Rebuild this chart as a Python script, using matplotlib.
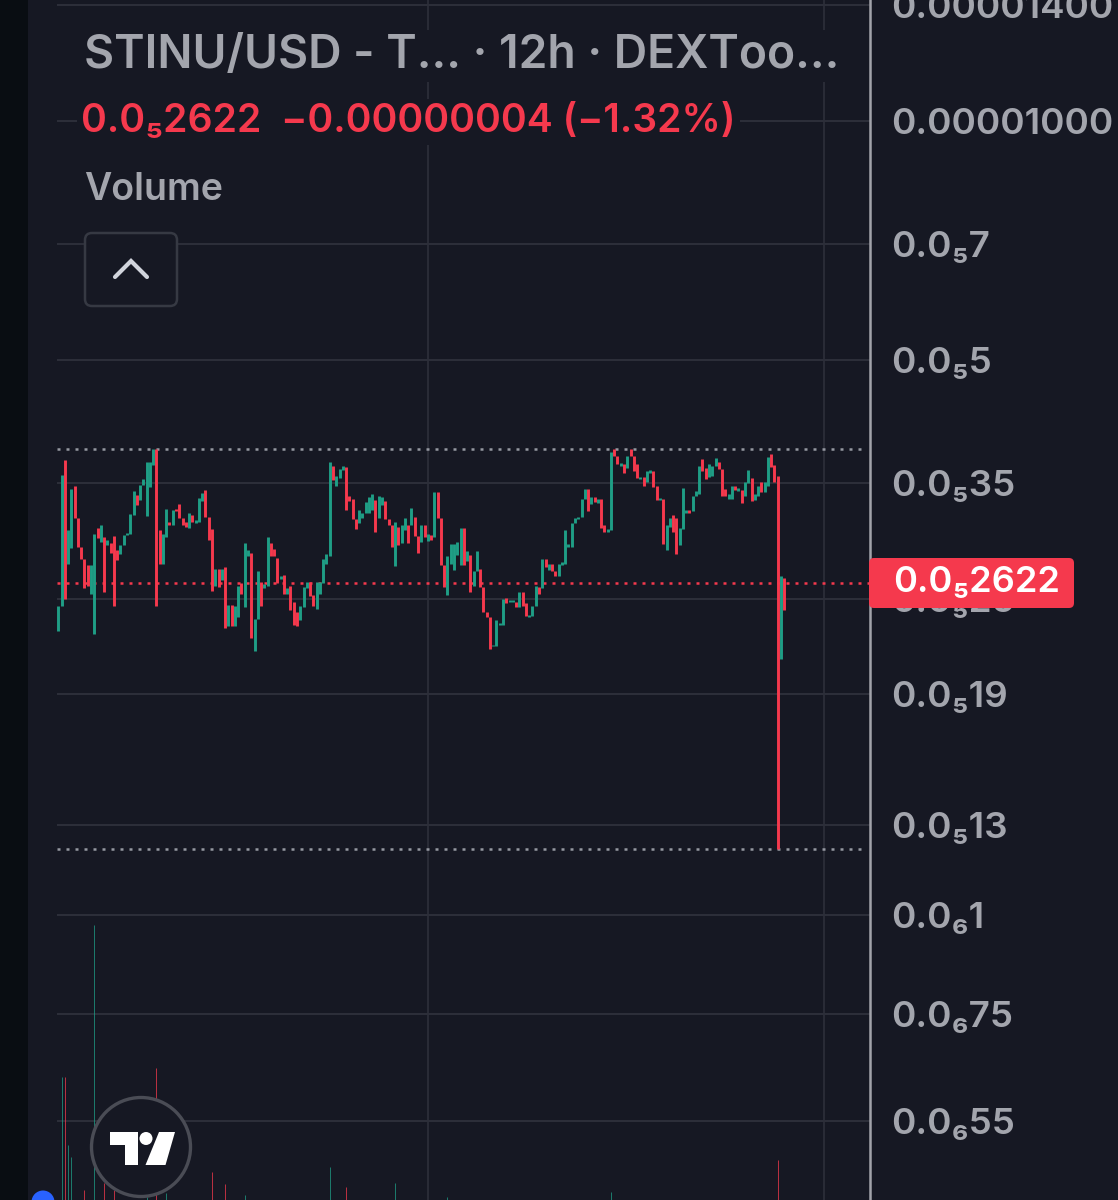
import matplotlib
matplotlib.use("Agg")
import matplotlib.pyplot as plt
from matplotlib.lines import Line2D
from matplotlib.patches import Rectangle, FancyBboxPatch, Polygon, Circle
from matplotlib.transforms import Affine2D

plt.rcParams['font.family'] = ['Inter', 'DejaVu Sans']

# values in millionths of a dollar
candle_high = [
 2.45,3.58,3.74,3.05,3.44,3.47,3.16,2.91,2.81,2.76,
 2.76,3.02,3.07,3.10,2.99,2.97,2.94,3.00,2.88,2.92,
 3.01,3.03,3.20,3.42,3.38,3.48,3.54,3.72,3.72,3.86,
 3.86,3.05,3.02,3.25,3.13,3.24,3.25,3.29,3.16,3.13,
 3.21,3.19,3.14,3.35,3.40,3.43,3.17,3.06,2.73,2.73,
 2.73,2.74,2.46,2.46,2.45,2.60,2.62,2.94,2.88,2.86,
 2.36,2.71,2.63,2.61,2.99,2.94,2.89,2.82,2.67,2.68,
 2.58,2.60,2.48,2.41,2.45,2.59,2.63,2.63,2.53,2.63,
 2.63,2.81,2.85,3.72,3.68,3.57,3.65,3.68,3.67,3.37,
 3.34,3.15,3.24,3.21,3.31,3.36,3.39,3.33,3.37,3.36,
 3.32,3.15,3.10,3.13,3.08,3.10,3.16,3.10,3.26,3.17,
 3.00,3.10,3.10,3.02,3.01,3.41,3.41,3.16,2.76,2.83,
 2.93,2.93,2.95,3.07,3.07,2.87,2.84,2.71,2.87,2.73,
 2.59,2.41,2.37,2.19,2.35,2.33,2.50,2.51,2.49,2.49,
 2.48,2.55,2.55,2.47,2.39,2.45,2.60,2.59,2.81,2.81,
 2.77,2.77,2.71,2.77,2.78,3.05,2.93,3.12,3.16,3.17,
 3.34,3.44,3.44,3.36,3.36,3.34,3.34,3.10,3.06,3.83,
 3.86,3.78,3.71,3.70,3.79,3.86,3.78,3.70,3.56,3.56,
 3.62,3.63,3.62,3.47,3.35,3.34,3.10,3.16,3.19,3.16,
 3.07,3.45,3.24,3.24,3.37,3.42,3.68,3.75,3.66,3.70,
 3.68,3.76,3.72,3.64,3.44,3.39,3.47,3.47,3.45,3.43,
 3.51,3.63,3.55,3.39,3.47,3.51,3.51,3.77,3.81,3.69,
 3.57,2.67,2.66]
candle_low = [
 2.28,2.45,2.50,2.77,2.90,3.16,2.91,2.81,2.58,2.60,
 2.54,2.26,2.98,2.95,2.55,2.92,2.86,2.45,2.80,2.85,
 2.92,3.01,3.02,3.19,3.28,3.33,3.48,3.18,3.46,3.69,
 2.45,2.77,2.77,2.99,3.10,3.10,3.23,3.16,3.10,3.08,
 3.07,3.13,3.12,3.13,3.32,3.17,2.97,2.56,2.60,2.59,
 2.64,2.30,2.31,2.31,2.31,2.37,2.54,2.44,2.83,2.23,
 2.15,2.36,2.45,2.58,2.60,2.83,2.83,2.62,2.65,2.54,
 2.54,2.42,2.32,2.31,2.35,2.44,2.58,2.52,2.45,2.43,
 2.54,2.62,2.77,2.83,3.53,3.47,3.55,3.63,3.24,3.32,
 3.15,3.06,3.12,3.16,3.21,3.21,3.24,3.04,3.16,3.28,
 3.15,3.10,2.91,2.75,2.92,2.94,3.05,2.94,3.10,3.00,
 2.86,2.95,2.99,2.96,2.97,2.99,3.16,2.76,2.59,2.53,
 2.77,2.72,2.84,2.76,2.76,2.79,2.55,2.60,2.71,2.59,
 2.41,2.37,2.16,2.18,2.18,2.32,2.32,2.47,2.48,2.48,
 2.44,2.44,2.45,2.38,2.37,2.38,2.45,2.54,2.58,2.74,
 2.72,2.71,2.67,2.67,2.76,2.77,2.91,2.91,3.12,3.15,
 3.17,3.34,3.23,3.29,3.31,3.30,3.07,3.04,3.04,3.05,
 3.78,3.70,3.68,3.60,3.66,3.78,3.62,3.55,3.54,3.47,
 3.51,3.60,3.46,3.33,3.33,2.93,2.88,3.08,3.04,2.85,
 2.92,3.06,3.21,3.21,3.23,3.37,3.39,3.62,3.54,3.56,
 3.57,3.68,3.64,3.37,3.37,3.34,3.34,3.43,3.42,3.30,
 3.37,3.50,3.32,3.33,3.37,3.41,3.41,3.47,3.67,3.51,
 1.21,2.10,2.42]
candle_dir = ("GGRGGRRRRR" "GGRGRGRRRG" "GGGGRGGGGG" "RRGGRGRRRR" "GRGGGRRRGR"
              "GRGRGGRGGR" "GGRGGRRRGR" "GRRRGGGRRG" "GGGGRGGGRR" "RRGGGGGRGG"
              "RRRGRGGRGR" "RGRGRGRRRG" "GGGGRGRGGR" "RRRGGGGRGG" "RGRRGGGRGR"
              "GRRGGGGGGG" "GGRGRGRRGG" "RRGRGRRRGR" "GGRRGRGGRR" "GGGRGGGRRG"
              "GGRRRGGRGR" "GGRGGRGGRR" "RGR")
volume_idx = [1,2,3,4,8,11,14,17,27,30,33,47,51,57,83,88,103,119,169,220]
volume_val = [138,138,70,58,25,290,32,25,18,147,22,43,31,20,48,28,32,18,23,55]
price_ticks = [14.0,10.0,7.0,5.0,3.5,2.5,1.9,1.3,1.0,0.75,0.55]
price_labels = ["0.00001400","0.00001000","0.0₅7","0.0₅5","0.0₅35","0.0₅25",
                "0.0₅19","0.0₅13","0.0₆1","0.0₆75","0.0₆55"]
time_grid = [113.2, 234.2]
last_price = 2.622
range_high = 3.86
range_low = 1.21

BG = '#161823'; STRIP = '#090d12'; GRID = '#2c2e39'; AXIS = '#a2a3aa'
TXT = '#a3a5ad'; RED = '#f5394d'; GREEN = '#1f9e86'; DOT = '#9598a1'

W, H = 1118, 1200
fig = plt.figure(figsize=(W/100, H/100), dpi=100, facecolor=BG)
PX = Affine2D().scale(1, -1).translate(0, H)

left_px, right_px = 28, 870
ax = fig.add_axes([left_px/W, 0, (right_px-left_px)/W, 1], facecolor=BG)
ax.set_yscale('log')
ax.set_ylim(10**(1-1079/794), 10**(1+121/794))
step = 3.27; x0_px = 58.3
ax.set_xlim((left_px-x0_px)/step, (right_px-x0_px)/step)

idx = list(range(len(candle_high)))
colors = [GREEN if c == 'G' else RED for c in candle_dir]

vol = ax.twinx()
vol.set_ylim(15, 1215)
vol.axis('off')
vol.vlines(volume_idx, 0, volume_val,
           colors=[colors[i] for i in volume_idx], lw=0.7, alpha=0.75)

ax.set_xticks(time_grid)
ax.set_xticklabels([])
ax.tick_params(axis='x', length=0)
ax.grid(True, axis='x', color=GRID, lw=1.3)
ax.set_axisbelow(True)
ax.yaxis.tick_right()
ax.minorticks_off()
ax.set_yticks(price_ticks)
ax.set_yticklabels(price_labels, fontsize=26.5, color=TXT, fontweight='semibold', va='center_baseline')
ax.tick_params(axis='y', length=0, pad=15, which='major')
ax.tick_params(axis='y', which='minor', length=0, labelright=False, labelleft=False)
for s in ['left', 'top', 'bottom']:
    ax.spines[s].set_visible(False)
ax.spines['right'].set_color(AXIS)
ax.spines['right'].set_linewidth(1.8)

x_first = -0.4
x_last = (right_px-x0_px)/step
ax.hlines(price_ticks, x_first, x_last, color=GRID, lw=1.5, zorder=1)
ax.hlines([range_high, range_low], x_first, x_last-1, color=DOT, lw=1.8,
          linestyles=[(0, (1.2, 2.4))], zorder=2)
ax.hlines(last_price, x_first, x_last, color=RED, lw=1.8,
          linestyles=[(0, (1.2, 2.4))], zorder=2)

ax.vlines(idx, candle_low, candle_high, colors=colors, lw=2.1, zorder=3)

def txt(x, y, s, **kw):
    return fig.text(x/W, 1-y/H, s, va='center', ha='left', **kw)

fig.add_artist(Rectangle((0, 0), left_px, H, transform=PX, fc=STRIP, ec='none', zorder=1))
box = dict(fc=BG, ec='none', pad=3)
txt(84, 56, "STINU/USD - T... · 12h · DEXToo...", fontsize=33.3, color=TXT, fontweight='semibold', bbox=box, zorder=4)
txt(81, 122, "0.0₅2622  −0.00000004 (−1.32%)", fontsize=28.15, color=RED, fontweight='semibold', bbox=box, zorder=4)
txt(84, 190, "Volume", fontsize=27, color=TXT, fontweight='semibold', zorder=4)

fig.add_artist(FancyBboxPatch((85, 233), 92, 73, boxstyle="round,pad=0,rounding_size=7", transform=PX,
                              fc=BG, ec='#363943', lw=1.8, zorder=2))
fig.add_artist(Line2D([115, 131, 147], [277, 261, 277], transform=PX, color='#d1d4dc', lw=3,
                      solid_capstyle='round', solid_joinstyle='miter', zorder=3))

# last price tag
fig.add_artist(FancyBboxPatch((869, 558), 205, 50, boxstyle="round,pad=0,rounding_size=5", transform=PX,
                              fc=RED, ec='none', zorder=2))
txt(893, 582, "0.0₅2622", fontsize=26, color='white', fontweight='semibold', zorder=4)

# TradingView badge and blue dot
fig.add_artist(Circle((141, 1147), 49.5, transform=PX, fc=BG, ec='#4a4c55', lw=2.4, zorder=2))
fig.add_artist(Polygon([(110, 1132), (138, 1132), (138, 1165), (125, 1165), (125, 1145), (110, 1145)],
                       transform=PX, fc='white', ec='none', zorder=3))
fig.add_artist(Circle((146, 1138.5), 6.5, transform=PX, fc='white', ec='none', zorder=3))
fig.add_artist(Polygon([(159, 1132), (175, 1132), (165.5, 1165), (145.5, 1165)],
                       transform=PX, fc='white', ec='none', zorder=3))
fig.add_artist(Circle((43, 1202), 11.5, transform=PX, fc='#2962ff', ec='none', zorder=3))

fig.savefig('out.png', dpi=100, facecolor=BG)
